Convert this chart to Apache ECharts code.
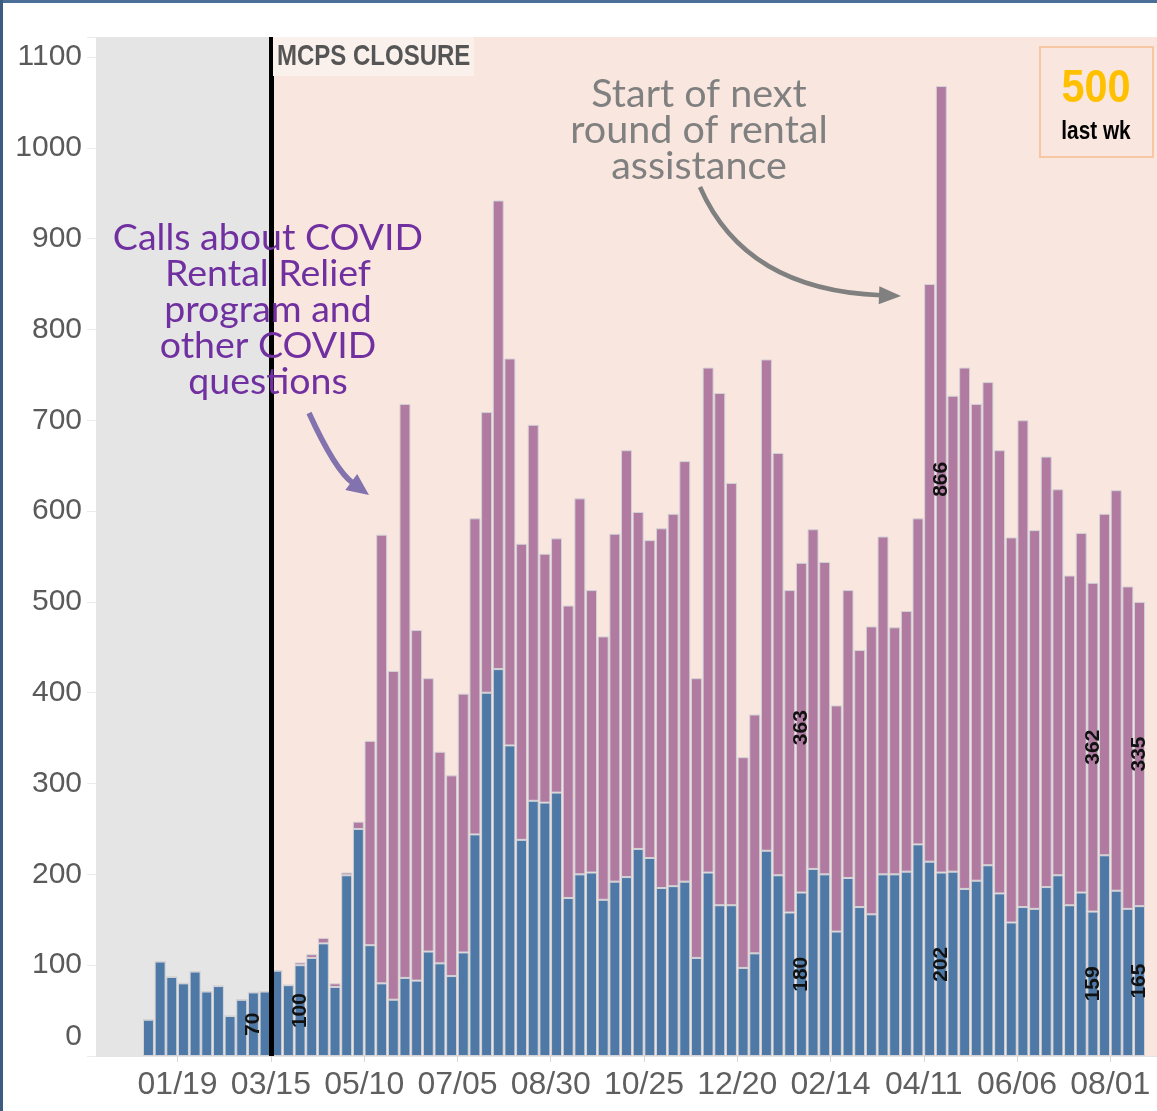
<!DOCTYPE html>
<html>
<head>
<meta charset="utf-8">
<script src="https://cdn.jsdelivr.net/npm/echarts@6/dist/echarts.min.js"></script>
<style>
  html, body { margin: 0; padding: 0; background: #fff; }
  #chart { width: 1157px; height: 1111px; }
</style>
</head>
<body>
<div id="chart"></div>
<script>
// weekly categories (week starting Sunday); first 4 and last one are empty padding
const weeks = [
  '2019-12-01','2019-12-08','2019-12-15','2019-12-22','2019-12-29',
  '2020-01-05','2020-01-12','2020-01-19','2020-01-26','2020-02-02','2020-02-09','2020-02-16','2020-02-23',
  '2020-03-01','2020-03-08','2020-03-15','2020-03-22','2020-03-29','2020-04-05','2020-04-12','2020-04-19','2020-04-26',
  '2020-05-03','2020-05-10','2020-05-17','2020-05-24','2020-05-31','2020-06-07','2020-06-14','2020-06-21','2020-06-28',
  '2020-07-05','2020-07-12','2020-07-19','2020-07-26','2020-08-02','2020-08-09','2020-08-16','2020-08-23','2020-08-30',
  '2020-09-06','2020-09-13','2020-09-20','2020-09-27','2020-10-04','2020-10-11','2020-10-18','2020-10-25',
  '2020-11-01','2020-11-08','2020-11-15','2020-11-22','2020-11-29','2020-12-06','2020-12-13','2020-12-20','2020-12-27',
  '2021-01-03','2021-01-10','2021-01-17','2021-01-24','2021-01-31','2021-02-07','2021-02-14','2021-02-21','2021-02-28',
  '2021-03-07','2021-03-14','2021-03-21','2021-03-28','2021-04-04','2021-04-11','2021-04-18','2021-04-25',
  '2021-05-02','2021-05-09','2021-05-16','2021-05-23','2021-05-30','2021-06-06','2021-06-13','2021-06-20','2021-06-27',
  '2021-07-04','2021-07-11','2021-07-18','2021-07-25','2021-08-01','2021-08-08','2021-08-15','2021-08-22'
];

// other calls (blue, bottom)
const otherCalls = [
  null, null, null, null,
  40, 104, 87, 80, 93, 71, 77, 44, 62, 70, 71,
  94, 78, 100, 108, 124, 76, 199, 250, 122, 80, 62, 86, 83, 115, 102, 88, 114,
  244, 400, 426, 342, 238, 281, 279, 290, 174, 200, 202, 172, 192, 197, 228, 218,
  185, 187, 192, 108, 202, 166, 166, 97, 113, 226, 199, 158, 180, 206, 200, 137,
  196, 164, 156, 200, 200, 203, 233, 214, 202, 203, 184, 193, 210, 179, 147, 164,
  162, 186, 199, 166, 180, 159, 221, 182, 162, 165,
  null
];

// COVID / rental relief calls (purple, stacked on top)
const covidCalls = [
  null, null, null, null,
  0, 0, 0, 0, 0, 0, 0, 0, 0, 0, 0,
  0, 0, 3, 4, 6, 4, 3, 8, 225, 494, 362, 632, 386, 301, 233, 221, 285,
  348, 309, 516, 426, 326, 414, 274, 280, 322, 414, 311, 290, 383, 470, 371, 350,
  396, 410, 463, 308, 556, 564, 465, 232, 263, 541, 465, 355, 363, 374, 344, 249,
  317, 283, 317, 372, 272, 287, 359, 636, 866, 524, 574, 525, 532, 488, 424, 536,
  417, 474, 425, 363, 396, 362, 376, 441, 355, 335,
  null
];

// weeks whose values are written on the bars
const labelOther = ['2020-03-01', '2020-03-29', '2021-01-24', '2021-04-18', '2021-07-18', '2021-08-15'];
const labelCovid = ['2021-01-24', '2021-04-18', '2021-07-18', '2021-08-15'];

// x tick labels, every 8 weeks
const tickWeeks = ['2020-01-19','2020-03-15','2020-05-10','2020-07-05','2020-08-30','2020-10-25',
                   '2020-12-20','2021-02-14','2021-04-11','2021-06-06','2021-08-01'];
const tickLabels = ['01/19','03/15','05/10','07/05','08/30','10/25','12/20','02/14','04/11','06/06','08/01'];

const closureWeek = '2020-03-15';

const sans = 'Liberation Sans, Arial, sans-serif';
const tickIdx = tickWeeks.map(w => weeks.indexOf(w));
const closureIdx = weeks.indexOf(closureWeek);

const withLabels = (arr, show) => arr.map((v, i) =>
  show.includes(weeks[i]) ? { value: v, label: { show: true } } : v);

const barLabel = {
  show: false, position: 'inside', rotate: 90,
  fontFamily: sans, fontWeight: 'bold', fontSize: 21, color: '#111'
};

function arrow(x0, y0, cx, cy, tx, ty, color, w, len, hw) {
  const dx = tx - cx, dy = ty - cy, d = Math.hypot(dx, dy);
  const ux = dx / d, uy = dy / d;
  const bx = tx - ux * len, by = ty - uy * len;
  return [
    { type: 'bezierCurve', z: 50,
      shape: { x1: x0, y1: y0, cpx1: cx, cpy1: cy, x2: bx + ux * 2, y2: by + uy * 2 },
      style: { stroke: color, lineWidth: w, fill: null } },
    { type: 'polygon', z: 50,
      shape: { points: [[tx, ty], [bx - uy * hw, by + ux * hw], [bx + uy * hw, by - ux * hw]] },
      style: { fill: color } }
  ];
}

const chart = echarts.init(document.getElementById('chart'));

const option = {
  animation: false,
  grid: { left: 96, top: 37, width: 1062, height: 1019 },
  xAxis: [
    { type: 'category', data: weeks, show: false },
    {
      type: 'value', min: 0, max: weeks.length, position: 'bottom',
      splitLine: { show: false },
      axisLine: { show: true, lineStyle: { color: '#e4e4e4', width: 1 } },
      axisTick: { show: true, customValues: tickIdx, length: 6, lineStyle: { color: '#d6d6d6' } },
      axisLabel: {
        customValues: tickIdx,
        formatter: v => tickLabels[tickIdx.indexOf(v)] || '',
        fontFamily: sans, fontSize: 32, color: '#5f5f5f', margin: 13
      }
    }
  ],
  yAxis: {
    type: 'value', min: 0, max: 1122, interval: 100,
    axisLine: { show: false },
    axisTick: { show: true, length: 9, lineStyle: { color: '#ececec' } },
    splitLine: { lineStyle: { color: 'rgba(255,255,255,0.6)', width: 1.5 } },
    axisLabel: {
      fontFamily: sans, fontSize: 30, color: '#5a5a5a', margin: 14,
      formatter: v => v === 0 ? '{z|0}' : (v % 100 === 0 ? String(v) : ''),
      rich: { z: { fontFamily: sans, fontSize: 30, color: '#5a5a5a', padding: [0, 0, 38, 0] } }
    }
  },
  series: [
    {
      // background shading before / after the school closure
      type: 'line', xAxisIndex: 1, data: [], z: -1, silent: true,
      markArea: {
        silent: true,
        data: [
          [{ xAxis: 0, itemStyle: { color: '#e5e5e5' } }, { xAxis: closureIdx }],
          [{ xAxis: closureIdx, itemStyle: { color: '#f9e7df' } }, { xAxis: weeks.length }]
        ]
      }
    },
    {
      name: 'Other', type: 'bar', stack: 'calls', barCategoryGap: '6%',
      data: withLabels(otherCalls, labelOther),
      itemStyle: { color: '#4e79a7', borderColor: '#d2d2d6', borderWidth: 1 },
      label: barLabel
    },
    {
      name: 'COVID', type: 'bar', stack: 'calls', barCategoryGap: '6%',
      data: withLabels(covidCalls, labelCovid),
      itemStyle: { color: '#b07aa1', borderColor: '#d2d2d6', borderWidth: 1 },
      label: barLabel
    },
    {
      // MCPS closure line
      type: 'line', xAxisIndex: 1, data: [], z: 200, silent: true,
      markLine: {
        silent: true, symbol: 'none', label: { show: false },
        lineStyle: { color: '#000', width: 5, type: 'solid' },
        data: [{ xAxis: closureIdx }]
      }
    }
  ],
  graphic: {
    elements: [
      { type: 'rect', z: 300, shape: { x: 0, y: 0, width: 1157, height: 3 }, style: { fill: '#4a6e96' } },
      { type: 'rect', z: 300, shape: { x: 0, y: 0, width: 3, height: 1111 }, style: { fill: '#3d5d80' } },
      { type: 'rect', z: 40, shape: { x: 273, y: 37, width: 201, height: 39 }, style: { fill: '#fbf1ec' } },
      { type: 'text', z: 41, x: 277, y: 57, scaleX: 0.8,
        style: { text: 'MCPS CLOSURE', fontFamily: sans, fontWeight: 'bold', fontSize: 30,
                 fill: '#555', verticalAlign: 'middle' } },
      { type: 'text', z: 60, x: 268, y: 220,
        style: { text: 'Calls about COVID\nRental Relief\nprogram and\nother COVID\nquestions',
                 fontFamily: 'Lato, sans-serif', fontSize: 37.5, lineHeight: 36, fill: '#7030a0',
                 align: 'center', verticalAlign: 'top' } },
      { type: 'text', z: 60, x: 699, y: 76,
        style: { text: 'Start of next\nround of rental\nassistance',
                 fontFamily: 'Lato, sans-serif', fontSize: 39.5, lineHeight: 36, fill: '#808080',
                 align: 'center', verticalAlign: 'top' } },
      ...arrow(309, 413, 335, 470, 369, 495, '#8272ad', 5.5, 22, 10),
      ...arrow(700, 187, 745, 290, 901, 296, '#808080', 4.5, 22, 9),
      { type: 'rect', z: 60, shape: { x: 1040, y: 47, width: 113, height: 110 },
        style: { fill: null, stroke: '#f7c6a3', lineWidth: 2 } },
      { type: 'text', z: 61, x: 1096, y: 89, scaleX: 0.9,
        style: { text: '500', fontFamily: sans, fontWeight: 'bold',
                 fontSize: 46, fill: '#ffc000', align: 'center', verticalAlign: 'middle' } },
      { type: 'text', z: 61, x: 1096, y: 132, scaleX: 0.8,
        style: { text: 'last wk', fontFamily: sans, fontWeight: 'bold', fontSize: 26,
                 fill: '#000', align: 'center', verticalAlign: 'middle' } }
    ]
  }
};

chart.setOption(option);
</script>
</body>
</html>
